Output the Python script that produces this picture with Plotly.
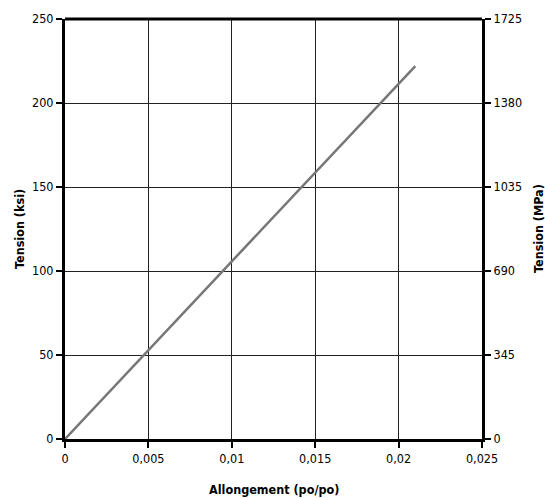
import plotly.graph_objects as go

strain = [0, 0.021]
stress_ksi = [0, 222]
x_ticks = [0, 0.005, 0.01, 0.015, 0.02, 0.025]
x_labels = ["0", "0,005", "0,01", "0,015", "0,02", "0,025"]
ksi_ticks = [0, 50, 100, 150, 200, 250]
mpa_ticks = [0, 345, 690, 1035, 1380, 1725]

FONT = "Liberation Sans Narrow, DejaVu Sans Condensed, Liberation Sans, sans-serif"

fig = go.Figure()
fig.add_trace(go.Scatter(x=strain, y=stress_ksi, mode="lines",
                         line=dict(color="#767676", width=2.5), showlegend=False,
                         hoverinfo="skip"))
fig.add_trace(go.Scatter(x=[0], y=[0], yaxis="y2", mode="markers",
                         marker=dict(opacity=0), showlegend=False, hoverinfo="skip"))

axis_common = dict(showline=True, linecolor="black", linewidth=3, mirror=False,
                   ticks="outside", ticklen=6, tickwidth=1.5, tickcolor="black",
                   showgrid=True, gridcolor="#222222", gridwidth=1, zeroline=False,
                   automargin=False,
                   tickfont=dict(family=FONT, size=12.5, color="black"))

TITLE_FONT = dict(family=FONT, size=12.5, color="black")

fig.update_layout(
    width=545, height=498,
    margin=dict(l=65, r=63, t=19, b=59),
    plot_bgcolor="white", paper_bgcolor="white",
    xaxis=dict(range=[0, 0.025], tickvals=x_ticks, ticktext=x_labels, **axis_common),
    yaxis=dict(range=[0, 250], tickvals=ksi_ticks, **axis_common),
    yaxis2=dict(range=[0, 1725], tickvals=mpa_ticks, overlaying="y", side="right",
                **{**axis_common, "showgrid": False}),
    shapes=[dict(type="line", xref="paper", yref="paper", x0=0, x1=1, y0=1, y1=1,
                 line=dict(color="black", width=3))],
    annotations=[
        dict(text="<b>Allongement (po/po)</b>", xref="paper", yref="paper", x=0.5, y=0,
             xanchor="center", yanchor="middle", yshift=-50, showarrow=False, font=TITLE_FONT),
        dict(text="<b>Tension (ksi)</b>", xref="paper", yref="paper", x=0, y=0.5,
             xanchor="center", yanchor="middle", xshift=-46, textangle=-90,
             showarrow=False, font=TITLE_FONT),
        dict(text="<b>Tension (MPa)</b>", xref="paper", yref="paper", x=1, y=0.5,
             xanchor="center", yanchor="middle", xshift=56, textangle=-90,
             showarrow=False, font=TITLE_FONT),
    ],
)

fig.write_html("out.html", config={"displayModeBar": False},
               post_script="document.body.style.margin='0px';document.body.style.overflow='hidden';")
